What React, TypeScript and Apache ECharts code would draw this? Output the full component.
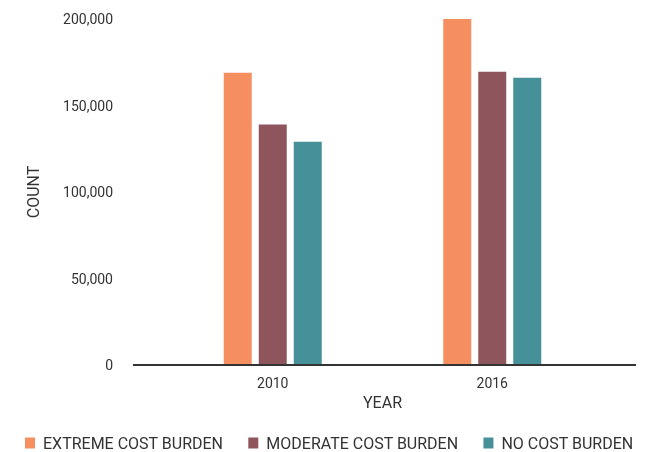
import React, { useEffect, useRef } from "react";
import * as echarts from "echarts";

const years = ["2010", "2016"];
const extremeBurden = [169000, 200000];
const moderateBurden = [139000, 169500];
const noBurden = [129000, 166000];
const seriesNames = ["EXTREME COST BURDEN", "MODERATE COST BURDEN", "NO COST BURDEN"];
const colors = ["#F68F60", "#8F555C", "#46909A"];

export default function App() {
  const ref = useRef<HTMLDivElement>(null);
  useEffect(() => {
    if (!ref.current) return;
    const chart = echarts.init(ref.current, null, { renderer: "svg" });
    const font = "Roboto, 'DejaVu Sans', sans-serif";
    const textColor = "#333";
    const gridLeft = 163;
    const gridRight = 46;
    const gridBottom = 87;
    chart.setOption({
      animation: false,
      textStyle: { fontFamily: font },
      grid: { left: gridLeft, right: gridRight, top: 19, bottom: gridBottom },
      legend: {
        left: 25,
        top: 435,
        padding: 0,
        itemWidth: 10,
        itemHeight: 11,
        itemGap: 25,
        icon: "rect",
        textStyle: { fontSize: 16, color: textColor, fontFamily: font, padding: [0, 0, 0, 3] },
        data: seriesNames,
      },
      xAxis: {
        type: "category",
        data: years,
        name: "YEAR",
        nameLocation: "middle",
        nameGap: 29,
        nameTextStyle: { fontSize: 16, color: textColor, fontFamily: font },
        axisLine: { show: false },
        axisTick: { show: false },
        axisLabel: { fontSize: 14, color: textColor, margin: 11, fontFamily: font },
      },
      yAxis: {
        type: "value",
        min: 0,
        max: 200000,
        interval: 50000,
        name: "COUNT",
        nameLocation: "middle",
        nameGap: 122,
        nameTextStyle: { fontSize: 16, color: textColor, fontFamily: font },
        axisLine: { show: false },
        axisTick: { show: false },
        splitLine: { show: false },
        axisLabel: {
          fontSize: 14,
          color: textColor,
          margin: 50,
          fontFamily: font,
          formatter: (v: number) => v.toLocaleString("en-US"),
        },
      },
      graphic: [
        {
          type: "line",
          shape: { x1: 133, y1: 365, x2: 636, y2: 365 },
          style: { stroke: "#333", lineWidth: 2 },
          z: 100,
        },
      ],
      series: [
        { name: seriesNames[0], type: "bar", data: extremeBurden, barWidth: 28, barGap: "25%", itemStyle: { color: colors[0] } },
        { name: seriesNames[1], type: "bar", data: moderateBurden, barWidth: 28, barGap: "25%", itemStyle: { color: colors[1] } },
        { name: seriesNames[2], type: "bar", data: noBurden, barWidth: 28, barGap: "25%", itemStyle: { color: colors[2] } },
      ],
    });
    return () => chart.dispose();
  }, []);
  return <div ref={ref} style={{ position: "fixed", left: 0, top: 0, width: 648, height: 452 }} />;
}
